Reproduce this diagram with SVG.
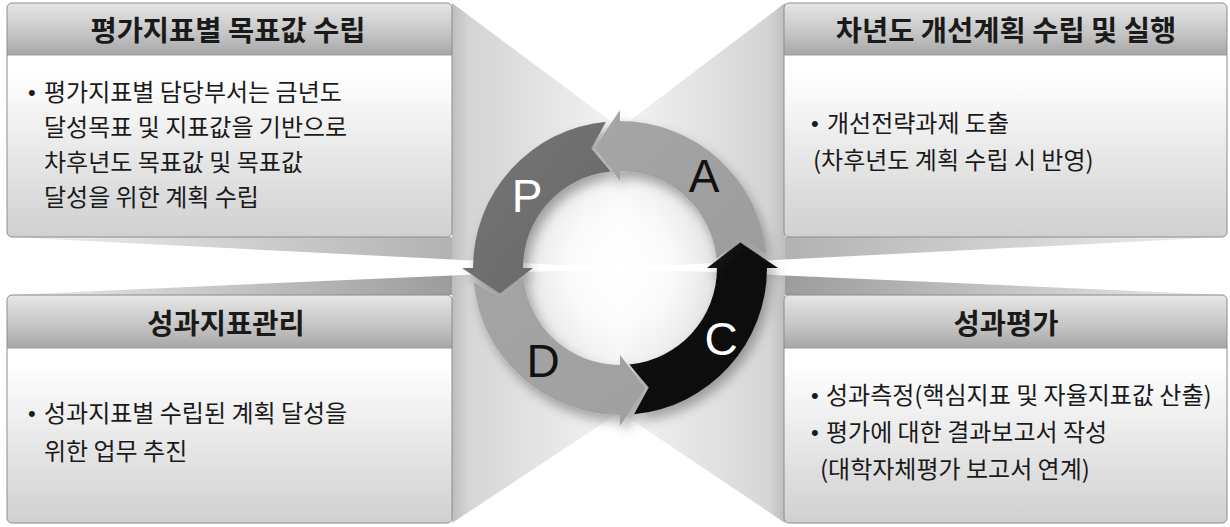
<svg xmlns="http://www.w3.org/2000/svg" width="1230" height="527" viewBox="0 0 1230 527">
<style>
.title{font-family:"Noto Sans CJK KR","Liberation Sans",sans-serif;font-size:28.5px;font-weight:bold;fill:#1a1a1a;text-anchor:middle}
.body{font-family:"Noto Sans CJK KR","Liberation Sans",sans-serif;font-size:24px;fill:#1a1a1a}
.bul{font-family:"Liberation Sans",sans-serif;font-size:22px;fill:#1a1a1a}
.lbl{font-family:"Liberation Sans",Arial,sans-serif;font-size:46px;text-anchor:middle}
.frame{fill:none;stroke:#8c8c8c;stroke-width:1}
.hline{stroke:#9a9a9a;stroke-width:1}
</style>
<defs>
<linearGradient id="bodyG" x1="0" y1="0" x2="0" y2="1">
<stop offset="0" stop-color="#ffffff"/><stop offset="0.3" stop-color="#ffffff"/><stop offset="1" stop-color="#d0d0d0"/>
</linearGradient>
<linearGradient id="headG" x1="0" y1="0" x2="0" y2="1">
<stop offset="0" stop-color="#e6e6e6"/><stop offset="0.6" stop-color="#c4c4c4"/><stop offset="1" stop-color="#a6a6a6"/>
</linearGradient>
<linearGradient id="gTLs" gradientUnits="userSpaceOnUse" x1="452" y1="0" x2="620" y2="0"><stop offset="0" stop-color="#bebebe"/><stop offset="0.1" stop-color="#d4d4d4"/><stop offset="1" stop-color="#f4f4f4"/></linearGradient>
<linearGradient id="gTRs" gradientUnits="userSpaceOnUse" x1="785" y1="0" x2="620" y2="0"><stop offset="0" stop-color="#bebebe"/><stop offset="0.1" stop-color="#d4d4d4"/><stop offset="1" stop-color="#f4f4f4"/></linearGradient>
<linearGradient id="gTLu" gradientUnits="userSpaceOnUse" x1="7" y1="0" x2="452" y2="0"><stop offset="0" stop-color="#f0f0f0"/><stop offset="1" stop-color="#b2b2b2"/></linearGradient>
<linearGradient id="gTRu" gradientUnits="userSpaceOnUse" x1="1226" y1="0" x2="785" y2="0"><stop offset="0" stop-color="#f0f0f0"/><stop offset="1" stop-color="#b2b2b2"/></linearGradient>
<linearGradient id="gBLs" gradientUnits="userSpaceOnUse" x1="452" y1="0" x2="620" y2="0"><stop offset="0" stop-color="#bcbcbc"/><stop offset="0.1" stop-color="#d6d6d6"/><stop offset="1" stop-color="#f4f4f4"/></linearGradient>
<linearGradient id="gBRs" gradientUnits="userSpaceOnUse" x1="785" y1="0" x2="620" y2="0"><stop offset="0" stop-color="#bcbcbc"/><stop offset="0.1" stop-color="#d6d6d6"/><stop offset="1" stop-color="#f4f4f4"/></linearGradient>
<linearGradient id="gBLa" gradientUnits="userSpaceOnUse" x1="7" y1="0" x2="452" y2="0"><stop offset="0" stop-color="#ececec"/><stop offset="1" stop-color="#9c9c9c"/></linearGradient>
<linearGradient id="gBRa" gradientUnits="userSpaceOnUse" x1="1226" y1="0" x2="785" y2="0"><stop offset="0" stop-color="#ececec"/><stop offset="1" stop-color="#9c9c9c"/></linearGradient>
<radialGradient id="innerG" cx="620" cy="268" r="97" gradientUnits="userSpaceOnUse">
<stop offset="0" stop-color="#ffffff" stop-opacity="1"/><stop offset="0.55" stop-color="#ffffff" stop-opacity="0.75"/><stop offset="1" stop-color="#ffffff" stop-opacity="0.05"/>
</radialGradient>
<linearGradient id="gP" x1="0" y1="0" x2="1" y2="1"><stop offset="0" stop-color="#777777"/><stop offset="1" stop-color="#666666"/></linearGradient>
<linearGradient id="gA" x1="0" y1="0" x2="1" y2="1"><stop offset="0" stop-color="#a6a6a6"/><stop offset="1" stop-color="#9c9c9c"/></linearGradient>
<linearGradient id="gD" x1="0" y1="0" x2="1" y2="1"><stop offset="0" stop-color="#a4a4a4"/><stop offset="1" stop-color="#a0a0a0"/></linearGradient>
<linearGradient id="gC" x1="0" y1="0" x2="1" y2="1"><stop offset="0" stop-color="#161616"/><stop offset="1" stop-color="#0a0a0a"/></linearGradient>
<filter id="ringShadow" x="-25%" y="-25%" width="150%" height="150%">
<feGaussianBlur in="SourceAlpha" stdDeviation="6"/>
<feOffset dx="4" dy="7" result="o"/>
<feComponentTransfer><feFuncA type="linear" slope="0.32"/></feComponentTransfer>
<feMerge><feMergeNode/><feMergeNode in="SourceGraphic"/></feMerge>
</filter>
</defs>

<rect x="0" y="0" width="1230" height="527" fill="#ffffff"/>

<g id="background-wedges">
<polygon points="452,3 620,128 620,268 452,259.5" fill="url(#gTLs)"/>
<polygon points="7,237 452,237 452,259.5" fill="url(#gTLu)"/>
<polygon points="785,3 620,128 620,268 785,259.5" fill="url(#gTRs)"/>
<polygon points="1226,237 785,237 785,259.5" fill="url(#gTRu)"/>
<polygon points="452,275.4 620,268 620,412 452,523" fill="url(#gBLs)"/>
<polygon points="7,295 452,275.4 452,295" fill="url(#gBLa)"/>
<polygon points="785,275.4 620,268 620,412 785,523" fill="url(#gBRs)"/>
<polygon points="1226,295 785,275.4 785,295" fill="url(#gBRa)"/>
<circle cx="620" cy="268" r="97" fill="url(#innerG)"/>
</g>

<g id="connectors" filter="url(#ringShadow)">
<path id="arrow-P" d="M605.91,121.68 A147,147 0 0 0 473,268 L462,268 L499.69,293.57 L533,268 L523,268 A97,97 0 0 1 610.70,171.45 L591.29,148.40 Z" fill="url(#gP)"/>
<path id="arrow-D" d="M473.68,282.09 A147,147 0 0 0 620,415 L620,426 L645.57,388.31 L620,355 L620,365 A97,97 0 0 1 523.45,277.30 L500.40,296.71 Z" fill="url(#gD)"/>
<path id="arrow-C" d="M634.09,414.32 A147,147 0 0 0 767,268 L778,268 L740.31,242.43 L707,268 L717,268 A97,97 0 0 1 629.30,364.55 L648.71,387.60 Z" fill="url(#gC)"/>
<path id="arrow-A" d="M766.32,253.91 A147,147 0 0 0 620,121 L620,110 L594.43,147.69 L620,181 L620,171 A97,97 0 0 1 716.55,258.70 L739.60,239.29 Z" fill="url(#gA)"/>
</g>

<g id="cycle-labels">
<text class="lbl" x="527" y="212" fill="#ffffff">P</text>
<text class="lbl" x="704" y="192" fill="#111111">A</text>
<text class="lbl" x="721" y="355" fill="#ffffff">C</text>
<text class="lbl" x="543" y="377" fill="#111111">D</text>
</g>

<g id="node-plan">
<rect x="7" y="3" width="445" height="234" rx="5" fill="url(#bodyG)"/>
<path d="M12,3 H447 A5,5 0 0 1 452,8 V55 H7 V8 A5,5 0 0 1 12,3 Z" fill="url(#headG)"/>
<line class="hline" x1="7" y1="55" x2="452" y2="55"/>
<rect class="frame" x="7" y="3" width="445" height="234" rx="5"/>
<text class="title" x="228" y="41">평가지표별 목표값 수립</text>
<text class="bul" x="28" y="100">•</text>
<text class="body" x="44" y="101">평가지표별 담당부서는 금년도</text>
<text class="body" x="44" y="136">달성목표 및 지표값을 기반으로</text>
<text class="body" x="44" y="171">차후년도 목표값 및 목표값</text>
<text class="body" x="44" y="206">달성을 위한 계획 수립</text>
</g>

<g id="node-act">
<rect x="784" y="3" width="443" height="234" rx="5" fill="url(#bodyG)"/>
<path d="M789,3 H1222 A5,5 0 0 1 1227,8 V55 H784 V8 A5,5 0 0 1 789,3 Z" fill="url(#headG)"/>
<line class="hline" x1="784" y1="55" x2="1227" y2="55"/>
<rect class="frame" x="784" y="3" width="443" height="234" rx="5"/>
<text class="title" x="1006" y="41">차년도 개선계획 수립 및 실행</text>
<text class="bul" x="811" y="131">•</text>
<text class="body" x="827" y="132">개선전략과제 도출</text>
<text class="body" x="813" y="169">(차후년도 계획 수립 시 반영)</text>
</g>

<g id="node-do">
<rect x="7" y="295" width="445" height="228" rx="5" fill="url(#bodyG)"/>
<path d="M12,295 H447 A5,5 0 0 1 452,300 V348 H7 V300 A5,5 0 0 1 12,295 Z" fill="url(#headG)"/>
<line class="hline" x1="7" y1="348" x2="452" y2="348"/>
<rect class="frame" x="7" y="295" width="445" height="228" rx="5"/>
<text class="title" x="226" y="334">성과지표관리</text>
<text class="bul" x="28" y="421">•</text>
<text class="body" x="44" y="422">성과지표별 수립된 계획 달성을</text>
<text class="body" x="44" y="460">위한 업무 추진</text>
</g>

<g id="node-check">
<rect x="784" y="295" width="443" height="228" rx="5" fill="url(#bodyG)"/>
<path d="M789,295 H1222 A5,5 0 0 1 1227,300 V348 H784 V300 A5,5 0 0 1 789,295 Z" fill="url(#headG)"/>
<line class="hline" x1="784" y1="348" x2="1227" y2="348"/>
<rect class="frame" x="784" y="295" width="443" height="228" rx="5"/>
<text class="title" x="1006" y="334">성과평가</text>
<text class="bul" x="811" y="403">•</text>
<text class="body" x="826" y="404">성과측정(핵심지표 및 자율지표값 산출)</text>
<text class="bul" x="811" y="440">•</text>
<text class="body" x="826" y="441">평가에 대한 결과보고서 작성</text>
<text class="body" x="820" y="478">(대학자체평가 보고서 연계)</text>
</g>
</svg>
